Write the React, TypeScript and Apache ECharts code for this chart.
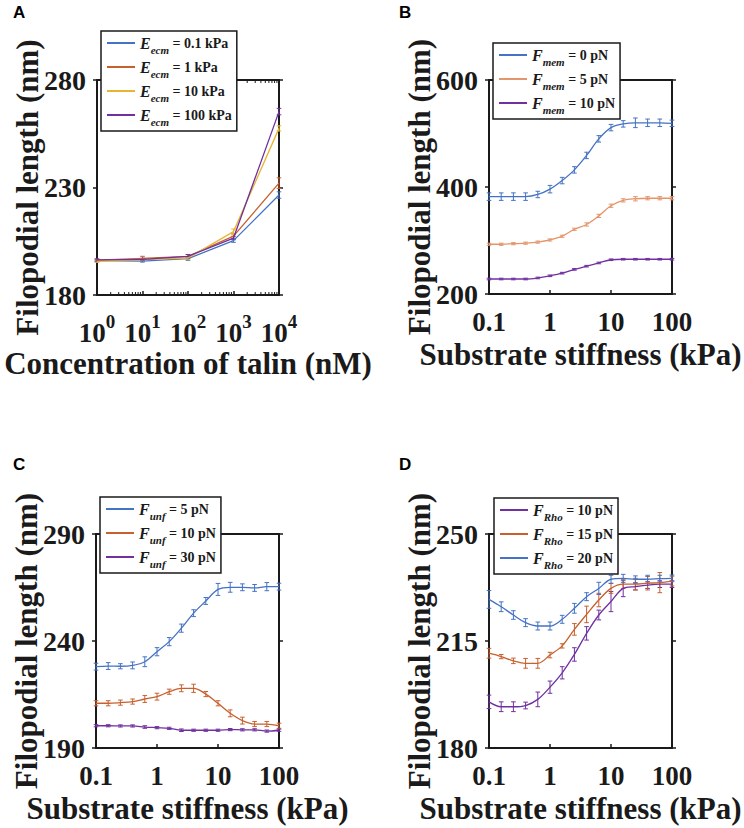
import React, { useEffect, useRef } from 'react';
import * as echarts from 'echarts';

// ---------------- data ----------------
// Panel A: talin concentration (nM)
const TALIN = [1, 10, 100, 1000, 10000];
const TALIN_TICKS = [1, 10, 100, 1000, 10000];
const TALIN_TICK_EXP = ['0', '1', '2', '3', '4'];
const TALIN_MINOR_TICKS = [
  2, 3, 4, 5, 6, 7, 8, 9,
  20, 30, 40, 50, 60, 70, 80, 90,
  200, 300, 400, 500, 600, 700, 800, 900,
  2000, 3000, 4000, 5000, 6000, 7000, 8000, 9000,
];
const A_NAMES = ['E_ecm = 0.1 kPa', 'E_ecm = 1 kPa', 'E_ecm = 10 kPa', 'E_ecm = 100 kPa'];
const A_Y_01 = [196.0, 195.8, 196.9, 205.3, 226.5];
const A_Y_1 = [196.2, 197.0, 198.0, 207.4, 232.0];
const A_Y_10 = [195.7, 196.5, 197.2, 209.5, 257.5];
const A_Y_100 = [196.3, 196.6, 198.0, 206.5, 265.3];
const A_ERR_01 = [0.5, 0.5, 0.8, 0.8, 1.5];
const A_ERR_1 = [0.5, 1.0, 0.8, 1.0, 2.5];
const A_ERR_10 = [0.5, 0.5, 0.8, 1.2, 1.2];
const A_ERR_100 = [0.5, 0.5, 0.8, 0.8, 1.5];
const A_Y_TICKS = [180, 230, 280];

// Substrate stiffness (kPa) for panels B, C, D
const STIFFNESS = [0.1, 0.1585, 0.2512, 0.3981, 0.631, 1, 1.585, 2.512, 3.981, 6.31, 10, 15.85, 25.12, 39.81, 63.1, 100];
const STIFF_TICKS = [0.1, 1, 10, 100];
const STIFF_TICK_LABELS = ['0.1', '1', '10', '100'];

// Panel B: membrane force
const B_NAMES = ['F_mem = 0 pN', 'F_mem = 5 pN', 'F_mem = 10 pN'];
const B_Y_0 = [382, 382, 382, 382, 386, 396, 412, 432, 459, 490, 511, 518, 520, 520, 520, 519];
const B_Y_5 = [293, 293, 294, 295, 297, 301, 308, 321, 330, 346, 365, 375, 378, 379, 379, 379];
const B_Y_10 = [228, 228, 228, 228, 230, 234, 239, 246, 252, 258, 264, 265, 265, 265, 265, 265];
const B_ERR_0 = [7, 7, 7, 7, 6, 7, 6, 6, 6, 6, 6, 6, 9, 7, 7, 6];
const B_ERR_5 = [2, 2, 2, 2, 2, 2, 2, 2, 3, 3, 3, 3, 4, 3, 3, 3];
const B_ERR_10 = [1.5, 1.5, 1.5, 1.5, 1.5, 1.5, 1.5, 1.5, 1.5, 1.5, 1.5, 1.5, 1.5, 1.5, 1.5, 1.5];
const B_Y_TICKS = [200, 400, 600];

// Panel C: unfolding force
const C_NAMES = ['F_unf = 5 pN', 'F_unf = 10 pN', 'F_unf = 30 pN'];
const C_Y_5 = [228.0, 228.3, 228.2, 228.6, 230.3, 235.0, 239.7, 246.0, 253.0, 258.7, 264.1, 265.1, 265.1, 264.8, 265.4, 265.4];
const C_Y_10 = [210.9, 210.9, 211.2, 211.7, 212.9, 214.0, 216.3, 217.9, 217.9, 215.2, 210.9, 206.2, 202.8, 201.2, 201.2, 200.4];
const C_Y_30 = [200.4, 200.4, 200.3, 200.3, 199.8, 199.5, 199.2, 198.3, 198.3, 198.3, 198.3, 198.6, 198.5, 198.5, 197.9, 198.3];
const C_ERR_5 = [1.6, 1.6, 1.2, 1.6, 2.3, 1.9, 1.9, 1.9, 1.6, 1.6, 2.8, 2.3, 1.6, 1.6, 1.9, 1.6];
const C_ERR_10 = [1.2, 1.2, 1.2, 1.2, 1.6, 1.6, 1.2, 1.6, 1.9, 1.2, 1.2, 1.6, 1.6, 1.2, 1.2, 1.2];
const C_ERR_30 = [0.5, 0.5, 0.5, 0.5, 0.6, 0.5, 0.5, 0.6, 0.5, 0.5, 0.5, 0.5, 0.5, 0.5, 0.5, 0.5];
const C_Y_TICKS = [190, 240, 290];

// Panel D: Rho force
const D_NAMES = ['F_Rho = 10 pN', 'F_Rho = 15 pN', 'F_Rho = 20 pN'];
const D_Y_10 = [195.1, 193.5, 193.5, 193.9, 195.9, 199.9, 204.6, 210.6, 217.5, 223.5, 227.9, 232.2, 232.8, 233.3, 233.6, 233.6];
const D_Y_15 = [211.0, 209.9, 208.5, 207.7, 207.7, 210.4, 213.4, 218.8, 223.7, 228.4, 232.2, 233.6, 233.6, 233.9, 234.1, 234.6];
const D_Y_20 = [228.6, 226.2, 223.5, 221.0, 219.9, 219.9, 222.1, 225.7, 229.5, 232.2, 235.2, 235.5, 235.2, 235.2, 235.4, 235.5];
const D_ERR_10 = [2.2, 1.6, 1.6, 1.1, 2.4, 2.0, 2.0, 2.2, 2.2, 1.6, 3.3, 2.7, 1.1, 1.1, 1.1, 1.1];
const D_ERR_15 = [1.6, 0.7, 0.9, 1.6, 1.6, 0.9, 0.7, 1.9, 2.7, 2.2, 1.6, 1.4, 1.9, 2.2, 3.3, 1.6];
const D_ERR_20 = [2.9, 1.6, 1.4, 1.3, 1.3, 1.3, 1.3, 1.6, 1.3, 2.0, 1.3, 1.3, 1.1, 1.3, 1.1, 1.1];
const D_Y_TICKS = [180, 215, 250];

const Y_NAME = 'Filopodial length (nm)';
const X_NAME_TALIN = 'Concentration of talin (nM)';
const X_NAME_STIFF = 'Substrate stiffness (kPa)';

// ---------------- styles ----------------
const SERIF = '"Liberation Serif", "Times New Roman", Times, serif';
const SANS = '"Liberation Sans", Arial, Helvetica, sans-serif';
const INK = '#1a1a1a';
const BLUE = '#4472C4';
const ORANGE = '#C8602E';
const SALMON = '#E3956B';
const YELLOW = '#E8B530';
const PURPLE = '#7030A0';

interface Curve { name: string; color: string; y: number[]; err: number[] }
interface Panel {
  letter: string;
  letterPos: [number, number];
  grid: { left: number; top: number; width: number; height: number };
  x: number[];
  xMin: number;
  xMax: number;
  xName: string;
  xNameGap: number;
  xLabelMargin: number;
  talin: boolean;
  yMin: number;
  yMax: number;
  yTicks: number[];
  smooth: number | boolean;
  curves: Curve[];
  legendPos: [number, number];
  minorTicks?: number[];
}

const PANELS: Panel[] = [
  {
    letter: 'A', letterPos: [13, 4],
    grid: { left: 97, top: 80, width: 182, height: 215 },
    x: TALIN, xMin: 1, xMax: 10000, xName: X_NAME_TALIN, xNameGap: 53, xLabelMargin: 17, talin: true,
    yMin: 180, yMax: 280, yTicks: A_Y_TICKS, smooth: false,
    curves: [
      { name: A_NAMES[0], color: BLUE, y: A_Y_01, err: A_ERR_01 },
      { name: A_NAMES[1], color: ORANGE, y: A_Y_1, err: A_ERR_1 },
      { name: A_NAMES[2], color: YELLOW, y: A_Y_10, err: A_ERR_10 },
      { name: A_NAMES[3], color: PURPLE, y: A_Y_100, err: A_ERR_100 },
    ],
    legendPos: [101, 31],
    minorTicks: TALIN_MINOR_TICKS,
  },
  {
    letter: 'B', letterPos: [399, 4],
    grid: { left: 489, top: 80, width: 183, height: 214 },
    x: STIFFNESS, xMin: 0.1, xMax: 100, xName: X_NAME_STIFF, xNameGap: 45, xLabelMargin: 14, talin: false,
    yMin: 200, yMax: 600, yTicks: B_Y_TICKS, smooth: 0.35,
    curves: [
      { name: B_NAMES[0], color: BLUE, y: B_Y_0, err: B_ERR_0 },
      { name: B_NAMES[1], color: SALMON, y: B_Y_5, err: B_ERR_5 },
      { name: B_NAMES[2], color: PURPLE, y: B_Y_10, err: B_ERR_10 },
    ],
    legendPos: [493, 43],
  },
  {
    letter: 'C', letterPos: [13, 456],
    grid: { left: 96, top: 534, width: 183, height: 214 },
    x: STIFFNESS, xMin: 0.1, xMax: 100, xName: X_NAME_STIFF, xNameGap: 45, xLabelMargin: 14, talin: false,
    yMin: 190, yMax: 290, yTicks: C_Y_TICKS, smooth: 0.35,
    curves: [
      { name: C_NAMES[0], color: BLUE, y: C_Y_5, err: C_ERR_5 },
      { name: C_NAMES[1], color: ORANGE, y: C_Y_10, err: C_ERR_10 },
      { name: C_NAMES[2], color: PURPLE, y: C_Y_30, err: C_ERR_30 },
    ],
    legendPos: [100, 497],
  },
  {
    letter: 'D', letterPos: [399, 456],
    grid: { left: 489, top: 534, width: 183, height: 214 },
    x: STIFFNESS, xMin: 0.1, xMax: 100, xName: X_NAME_STIFF, xNameGap: 45, xLabelMargin: 14, talin: false,
    yMin: 180, yMax: 250, yTicks: D_Y_TICKS, smooth: 0.35,
    curves: [
      { name: D_NAMES[0], color: PURPLE, y: D_Y_10, err: D_ERR_10 },
      { name: D_NAMES[1], color: ORANGE, y: D_Y_15, err: D_ERR_15 },
      { name: D_NAMES[2], color: BLUE, y: D_Y_20, err: D_ERR_20 },
    ],
    legendPos: [494, 498],
  },
];

const legendFormatter = (name: string) => {
  const m = /^(\w)_(\w+) (.*)$/.exec(name);
  if (!m) return name;
  return `{v|${m[1]}}{s|${m[2]}}{t| ${m[3]}}`;
};

const talinLabel = (v: number) => {
  let i = TALIN_TICKS.findIndex((t) => Math.abs(Math.log10(t) - Math.log10(v)) < 1e-6);
  if (i < 0) return '';
  return `{b|10}{e|${TALIN_TICK_EXP[i]}}`;
};

const stiffLabel = (v: number) => {
  const i = STIFF_TICKS.findIndex((t) => Math.abs(Math.log10(t) - Math.log10(v)) < 1e-6);
  return i < 0 ? '' : STIFF_TICK_LABELS[i];
};

const errRender = (color: string) => (_params: any, api: any) => {
  const x = api.value(0);
  const y = api.value(1);
  const e = api.value(2);
  const p1 = api.coord([x, y + e]);
  const p2 = api.coord([x, y - e]);
  const w = 2.3;
  const style = { stroke: color, lineWidth: 1 };
  return {
    type: 'group',
    children: [
      { type: 'line', shape: { x1: p1[0], y1: p1[1], x2: p2[0], y2: p2[1] }, style },
      { type: 'line', shape: { x1: p1[0] - w, y1: p1[1], x2: p1[0] + w, y2: p1[1] }, style },
      { type: 'line', shape: { x1: p2[0] - w, y1: p2[1], x2: p2[0] + w, y2: p2[1] }, style },
    ],
  };
};

function buildOption() {
  const grid: any[] = [];
  const xAxis: any[] = [];
  const yAxis: any[] = [];
  const series: any[] = [];
  const legend: any[] = [];
  const graphic: any[] = [];

  PANELS.forEach((p, i) => {
    grid.push({ ...p.grid, show: false, containLabel: false, outerBoundsMode: 'none' });

    const axisLine = { show: true, onZero: false, lineStyle: { color: INK, width: 2 } };
    const xBase = {
      type: 'log', logBase: 10, gridIndex: i, min: p.xMin, max: p.xMax,
      splitLine: { show: false }, minorTick: { show: false }, minorSplitLine: { show: false },
      axisLine,
      axisTick: { show: true, inside: true, length: 4, lineStyle: { color: INK, width: 1.5 } },
    };
    xAxis.push({
      ...xBase,
      position: 'bottom',
      axisLabel: {
        show: true,
        margin: p.xLabelMargin,
        color: INK,
        fontFamily: SERIF,
        fontWeight: 'bold',
        fontSize: 27,
        formatter: p.talin ? talinLabel : stiffLabel,
        rich: {
          b: { fontFamily: SERIF, fontWeight: 'bold', fontSize: 27, color: INK, lineHeight: 34, verticalAlign: 'bottom' },
          e: { fontFamily: SERIF, fontWeight: 'bold', fontSize: 19, color: INK, lineHeight: 14, verticalAlign: 'top' },
        },
      },
      name: p.xName,
      nameLocation: 'middle',
      nameGap: p.xNameGap,
      nameMoveOverlap: false,
      nameTextStyle: { fontFamily: SERIF, fontWeight: 'bold', fontSize: 31, color: INK },
    });
    xAxis.push({ ...xBase, position: 'top', axisLabel: { show: false } });

    const yBase = {
      type: 'value', gridIndex: i, min: p.yMin, max: p.yMax,
      splitLine: { show: false },
      axisLine,
      axisTick: { show: true, inside: false, length: 4, customValues: p.yTicks, lineStyle: { color: INK, width: 1.5 } },
    };
    yAxis.push({
      ...yBase,
      position: 'left',
      axisLabel: {
        show: true, customValues: p.yTicks, margin: 11, color: INK,
        fontFamily: SERIF, fontWeight: 'bold', fontSize: 28,
      },
      name: Y_NAME,
      nameLocation: 'middle',
      nameGap: 54,
      nameMoveOverlap: false,
      nameTextStyle: { fontFamily: SERIF, fontWeight: 'bold', fontSize: 31, color: INK },
    });
    yAxis.push({ ...yBase, position: 'right', axisLabel: { show: false } });

    p.curves.forEach((c) => {
      series.push({
        type: 'line',
        name: c.name,
        xAxisIndex: 2 * i,
        yAxisIndex: 2 * i,
        data: p.x.map((xv, k) => [xv, c.y[k]]),
        smooth: p.smooth,
        symbol: 'none',
        lineStyle: { color: c.color, width: 1.3 },
        itemStyle: { color: c.color },
        z: 3,
      });
      series.push({
        type: 'custom',
        xAxisIndex: 2 * i,
        yAxisIndex: 2 * i,
        data: p.x.map((xv, k) => [xv, c.y[k], c.err[k]]),
        encode: { x: 0, y: 1 },
        renderItem: errRender(c.color),
        silent: true,
        z: 3,
      });
    });

    if (p.minorTicks) {
      series.push({
        type: 'custom',
        xAxisIndex: 2 * i,
        yAxisIndex: 2 * i,
        data: p.minorTicks.map((v) => [v, p.yMin]),
        encode: { x: 0, y: 1 },
        silent: true,
        z: 4,
        renderItem: (_params: any, api: any) => {
          const v = api.value(0);
          const b = api.coord([v, p.yMin]);
          const t = api.coord([v, p.yMax]);
          const style = { stroke: INK, lineWidth: 1 };
          return {
            type: 'group',
            children: [
              { type: 'line', shape: { x1: b[0], y1: b[1], x2: b[0], y2: b[1] - 3 }, style },
              { type: 'line', shape: { x1: t[0], y1: t[1], x2: t[0], y2: t[1] + 3 }, style },
            ],
          };
        },
      });
    }

    legend.push({
      show: true,
      orient: 'vertical',
      left: p.legendPos[0],
      top: p.legendPos[1],
      data: p.curves.map((c) => c.name),
      itemWidth: 28,
      itemHeight: 2,
      itemGap: 0,
      icon: 'rect',
      padding: [0, 5, 4, 6],
      backgroundColor: '#ffffff',
      borderColor: INK,
      borderWidth: 1.5,
      borderRadius: 0,
      selectedMode: false,
      z: 10,
      formatter: legendFormatter,
      textStyle: {
        color: INK, fontFamily: SERIF, fontWeight: 'bold', fontSize: 14, lineHeight: 24,
        rich: {
          v: { fontFamily: SERIF, fontStyle: 'italic', fontWeight: 'bold', fontSize: 16, lineHeight: 24, color: INK },
          s: { fontFamily: SERIF, fontStyle: 'italic', fontWeight: 'bold', fontSize: 11, lineHeight: 10, verticalAlign: 'bottom', color: INK },
          t: { fontFamily: SERIF, fontWeight: 'bold', fontSize: 14, lineHeight: 24, color: INK },
        },
      },
    });

    graphic.push({
      type: 'text',
      left: p.letterPos[0],
      top: p.letterPos[1],
      style: { text: p.letter, font: `bold 17px ${SANS}`, fill: '#000' },
    });
  });

  return {
    animation: false,
    backgroundColor: '#ffffff',
    grid,
    xAxis,
    yAxis,
    series,
    legend,
    graphic,
  };
}

export default function App() {
  const ref = useRef<HTMLDivElement | null>(null);
  useEffect(() => {
    if (!ref.current) return;
    const chart = echarts.init(ref.current, undefined, { renderer: 'svg' });
    chart.setOption(buildOption() as any);
    return () => chart.dispose();
  }, []);
  return (
    <div
      ref={ref}
      style={{ position: 'absolute', left: 0, top: 0, width: 744, height: 828, background: '#fff' }}
    />
  );
}
